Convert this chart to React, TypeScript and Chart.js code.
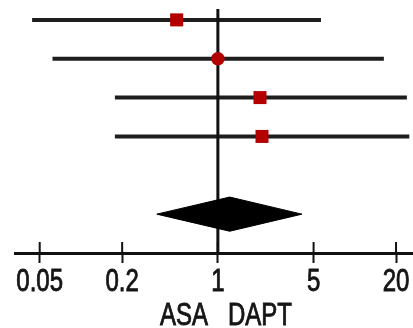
import React, { useEffect, useRef } from "react";
import { Chart, registerables } from "chart.js";

Chart.register(...registerables);

const categories = ["Study 1", "Study 2", "Study 3", "Study 4"];
const estimates = [0.5, 1.0, 2.03, 2.1];
const lowerCI = [0.044, 0.062, 0.177, 0.177];
const upperCI = [5.66, 16.3, 24, 25];
const markerShapes = ["rect", "circle", "rect", "rect"];
const markerRadii = [9.2, 6.8, 9.2, 9.2];
// pooled: lower, estimate, upper
const pooledValues = [0.358, 1.22, 4.11];
const tickValues = [0.05, 0.2, 1, 5, 20];
const tickLabels = ["0.05", "0.2", "1", "5", "20"];
const axisTitle = "ASA   DAPT";

const FONT = '32px "Liberation Sans", Arial, sans-serif';

export default function App() {
  const ref = useRef<HTMLCanvasElement | null>(null);
  useEffect(() => {
    document.body.style.margin = "0";
    const canvas = ref.current;
    if (!canvas) return;
    const yMin = 0.72;
    const yMax = 7;
    const pooledRow = categories.length + 2;
    const datasets: any[] = [];
    categories.forEach((c, i) => {
      datasets.push({
        label: c + " CI",
        data: [
          { x: lowerCI[i], y: i + 1 },
          { x: upperCI[i], y: i + 1 },
        ],
        showLine: true,
        borderColor: "#1e1e1e",
        borderWidth: 4,
        pointRadius: 0,
        order: 3,
      });
    });
    datasets.push({
      label: "ref",
      data: [
        { x: 1, y: yMin },
        { x: 1, y: yMax },
      ],
      showLine: true,
      borderColor: "#111",
      borderWidth: 3,
      pointRadius: 0,
      order: 2,
    });
    datasets.push({
      label: "estimates",
      data: estimates.map((e, i) => ({ x: e, y: i + 1 })),
      pointStyle: markerShapes,
      pointRadius: markerRadii,
      backgroundColor: "#b30000",
      borderColor: "#b30000",
      borderWidth: 0,
      showLine: false,
      order: 0,
    });
    datasets.push({
      label: "pooled",
      data: [
        { x: pooledValues[0], y: pooledRow },
        { x: pooledValues[1], y: pooledRow - 0.44 },
        { x: pooledValues[2], y: pooledRow },
        { x: pooledValues[1], y: pooledRow + 0.44 },
        { x: pooledValues[0], y: pooledRow },
      ],
      showLine: true,
      fill: "shape",
      backgroundColor: "#000",
      borderColor: "#000",
      borderWidth: 1,
      pointRadius: 0,
      order: 1,
    });

    const axisPlugin = {
      id: "forestAxis",
      afterDraw(chart: any) {
        const xs = chart.scales.x;
        const area = chart.chartArea;
        const bottom = area.bottom;
        const ctx = chart.ctx;
        ctx.save();
        ctx.strokeStyle = "#111";
        ctx.lineWidth = 2;
        ctx.beginPath();
        tickValues.forEach((v) => {
          const x = xs.getPixelForValue(v);
          ctx.moveTo(x, bottom - 11);
          ctx.lineTo(x, bottom);
        });
        ctx.stroke();
        ctx.fillStyle = "#151515";
        ctx.strokeStyle = "#151515";
        ctx.lineWidth = 0.9;
        ctx.font = FONT;
        ctx.textAlign = "center";
        ctx.textBaseline = "alphabetic";
        tickValues.forEach((v, i) => {
          const x = xs.getPixelForValue(v);
          ctx.save();
          ctx.translate(x, bottom + 38);
          ctx.scale(0.75, 1);
          ctx.fillText(tickLabels[i], 0, 0);
          ctx.strokeText(tickLabels[i], 0, 0);
          ctx.restore();
        });
        ctx.save();
        ctx.translate((area.left + area.right) / 2 + 12, bottom + 72);
        ctx.scale(0.75, 1);
        ctx.fillText(axisTitle, 0, 0);
        ctx.strokeText(axisTitle, 0, 0);
        ctx.restore();
        ctx.restore();
      },
    };

    const chart = new Chart(canvas, {
      type: "scatter",
      data: { datasets },
      plugins: [axisPlugin],
      options: {
        animation: false,
        responsive: false,
        layout: { autoPadding: false, padding: { left: 15, top: 9, right: 0, bottom: 65 } },
        plugins: { legend: { display: false }, tooltip: { enabled: false } },
        scales: {
          x: {
            type: "logarithmic",
            min: 0.033,
            max: 26.6,
            afterBuildTicks: (scale: any) => {
              scale.ticks = tickValues.map((v) => ({ value: v }));
            },
            border: { display: true, color: "#111", width: 3 },
            grid: {
              display: true,
              drawOnChartArea: false,
              drawTicks: true,
              tickLength: 10,
              tickWidth: 2,
              tickColor: "#111",
            },
            ticks: { display: false },
            title: { display: false },
          },
          y: {
            type: "linear",
            reverse: true,
            min: yMin,
            max: yMax,
            display: false,
          },
        },
      },
    });
    return () => chart.destroy();
  }, []);
  return (
    <div style={{ width: 413, height: 328 }}>
      <canvas ref={ref} width={413} height={328} style={{ display: "block" }} />
    </div>
  );
}
